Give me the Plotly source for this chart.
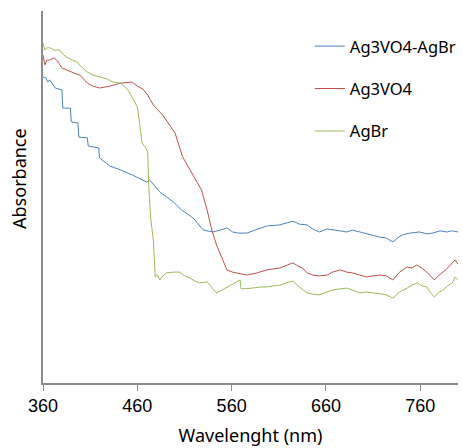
import plotly.graph_objects as go

# Ag3VO4-AgBr (blue)
wl_blue = [360, 363, 365, 367, 373, 380, 381, 389, 390, 397, 398, 407, 408, 419, 420, 431, 442, 455,
           470, 473, 484, 498, 507, 519, 530, 540, 548, 555, 561, 567, 576, 587, 597, 611, 625, 632,
           640, 646, 653, 661, 667, 675, 682, 688, 696, 703, 710, 717, 724, 731, 736, 741, 749, 759,
           767, 773, 781, 788, 794, 800]
abs_blue = [0.823, 0.820, 0.809, 0.815, 0.793, 0.788, 0.739, 0.739, 0.702, 0.699, 0.661, 0.659, 0.637,
            0.632, 0.605, 0.583, 0.573, 0.559, 0.540, 0.546, 0.513, 0.487, 0.465, 0.444, 0.411, 0.406,
            0.411, 0.417, 0.406, 0.403, 0.403, 0.414, 0.422, 0.425, 0.435, 0.427, 0.425, 0.414, 0.406,
            0.414, 0.411, 0.409, 0.406, 0.411, 0.406, 0.401, 0.398, 0.392, 0.390, 0.379, 0.390, 0.398,
            0.403, 0.406, 0.401, 0.403, 0.409, 0.406, 0.409, 0.406]

# Ag3VO4 (red)
wl_red = [360, 362, 364, 367, 372, 376, 380, 385, 391, 395, 399, 407, 413, 420, 431, 442, 454, 460,
          466, 471, 477, 487, 500, 504, 508, 519, 528, 534, 539, 544, 550, 555, 561, 569, 576, 587,
          597, 611, 618, 625, 630, 635, 640, 646, 653, 661, 667, 675, 682, 688, 696, 703, 710, 717,
          724, 731, 738, 746, 751, 756, 762, 767, 771, 775, 779, 784, 789, 794, 797, 800]
abs_red = [0.882, 0.855, 0.868, 0.868, 0.874, 0.863, 0.847, 0.841, 0.836, 0.831, 0.828, 0.806, 0.798,
           0.793, 0.798, 0.806, 0.809, 0.798, 0.790, 0.774, 0.747, 0.720, 0.672, 0.640, 0.608, 0.559,
           0.519, 0.465, 0.411, 0.371, 0.336, 0.304, 0.298, 0.293, 0.290, 0.296, 0.304, 0.309, 0.315,
           0.323, 0.315, 0.309, 0.296, 0.290, 0.288, 0.290, 0.298, 0.304, 0.298, 0.296, 0.290, 0.285,
           0.288, 0.290, 0.288, 0.277, 0.298, 0.312, 0.309, 0.317, 0.309, 0.298, 0.288, 0.277, 0.288,
           0.298, 0.309, 0.323, 0.331, 0.320]

# AgBr (green)
wl_green = [360, 362, 364, 367, 372, 378, 381, 385, 391, 396, 401, 407, 413, 420, 428, 434, 442, 446,
            450, 455, 460, 462, 465, 469, 471, 472, 474, 477, 479, 481, 484, 487, 491, 498, 505, 510,
            516, 521, 526, 534, 539, 544, 550, 555, 561, 567, 569, 570, 576, 582, 590, 597, 604, 611,
            618, 625, 632, 640, 646, 653, 661, 667, 675, 682, 688, 696, 703, 710, 717, 724, 731, 738,
            746, 751, 757, 762, 767, 771, 775, 779, 784, 789, 794, 797, 800]
abs_green = [0.914, 0.895, 0.901, 0.901, 0.895, 0.895, 0.884, 0.876, 0.868, 0.863, 0.849, 0.836, 0.828,
             0.823, 0.817, 0.809, 0.806, 0.798, 0.788, 0.766, 0.742, 0.707, 0.645, 0.632, 0.621, 0.538,
             0.446, 0.384, 0.285, 0.290, 0.277, 0.288, 0.296, 0.298, 0.298, 0.288, 0.282, 0.274, 0.269,
             0.272, 0.258, 0.242, 0.250, 0.258, 0.266, 0.274, 0.277, 0.253, 0.253, 0.255, 0.258, 0.258,
             0.261, 0.263, 0.269, 0.274, 0.258, 0.242, 0.239, 0.237, 0.245, 0.250, 0.253, 0.255, 0.250,
             0.242, 0.245, 0.242, 0.239, 0.237, 0.228, 0.245, 0.255, 0.263, 0.269, 0.261, 0.258, 0.242,
             0.231, 0.242, 0.250, 0.261, 0.269, 0.285, 0.277]

x_ticks = [360, 460, 560, 660, 760]

series = [
    ("Ag3VO4-AgBr", wl_blue, abs_blue, "#4F81BD"),
    ("Ag3VO4", wl_red, abs_red, "#C0504D"),
    ("AgBr", wl_green, abs_green, "#9BBB59"),
]

fig = go.Figure()
for i, (name, xs, ys, col) in enumerate(series):
    fig.add_trace(go.Scatter(x=xs, y=ys, mode="lines", name=name, legendgroup=str(i),
                             line=dict(color=col, width=1)))

axis_col = "#8C8C8C"
fig.update_layout(
    width=463, height=448,
    margin=dict(l=43, r=5, t=11, b=65, autoexpand=False),
    paper_bgcolor="white", plot_bgcolor="white",
    font=dict(family="Liberation Sans, Arial, sans-serif", color="#000000"),
    showlegend=True,
    legend=dict(x=0.643, y=0.952, xanchor="left", yanchor="top",
                font=dict(size=16.5, family="Noto Sans, sans-serif"),
                tracegroupgap=18, bgcolor="rgba(0,0,0,0)"),
    xaxis=dict(range=[360, 800], tickvals=x_ticks, ticktext=[str(t) for t in x_ticks],
               showline=True, linecolor=axis_col, linewidth=1.5, ticks="outside",
               ticklen=6, tickcolor=axis_col, showgrid=False, zeroline=False,
               tickfont=dict(size=18),
               title=dict(text="Wavelenght (nm)", font=dict(size=18, family="Noto Sans, sans-serif"),
                          standoff=14)),
    yaxis=dict(range=[0, 1], showline=True, linecolor=axis_col, linewidth=1.5,
               showticklabels=False, ticks="", showgrid=False, zeroline=False),
    annotations=[dict(text="Absorbance", xref="paper", yref="paper", x=-0.058, y=0.551,
                      xanchor="center", yanchor="middle", textangle=-90, showarrow=False,
                      font=dict(size=18, family="Noto Sans, sans-serif"))],
)

fig.write_html("out.html")
